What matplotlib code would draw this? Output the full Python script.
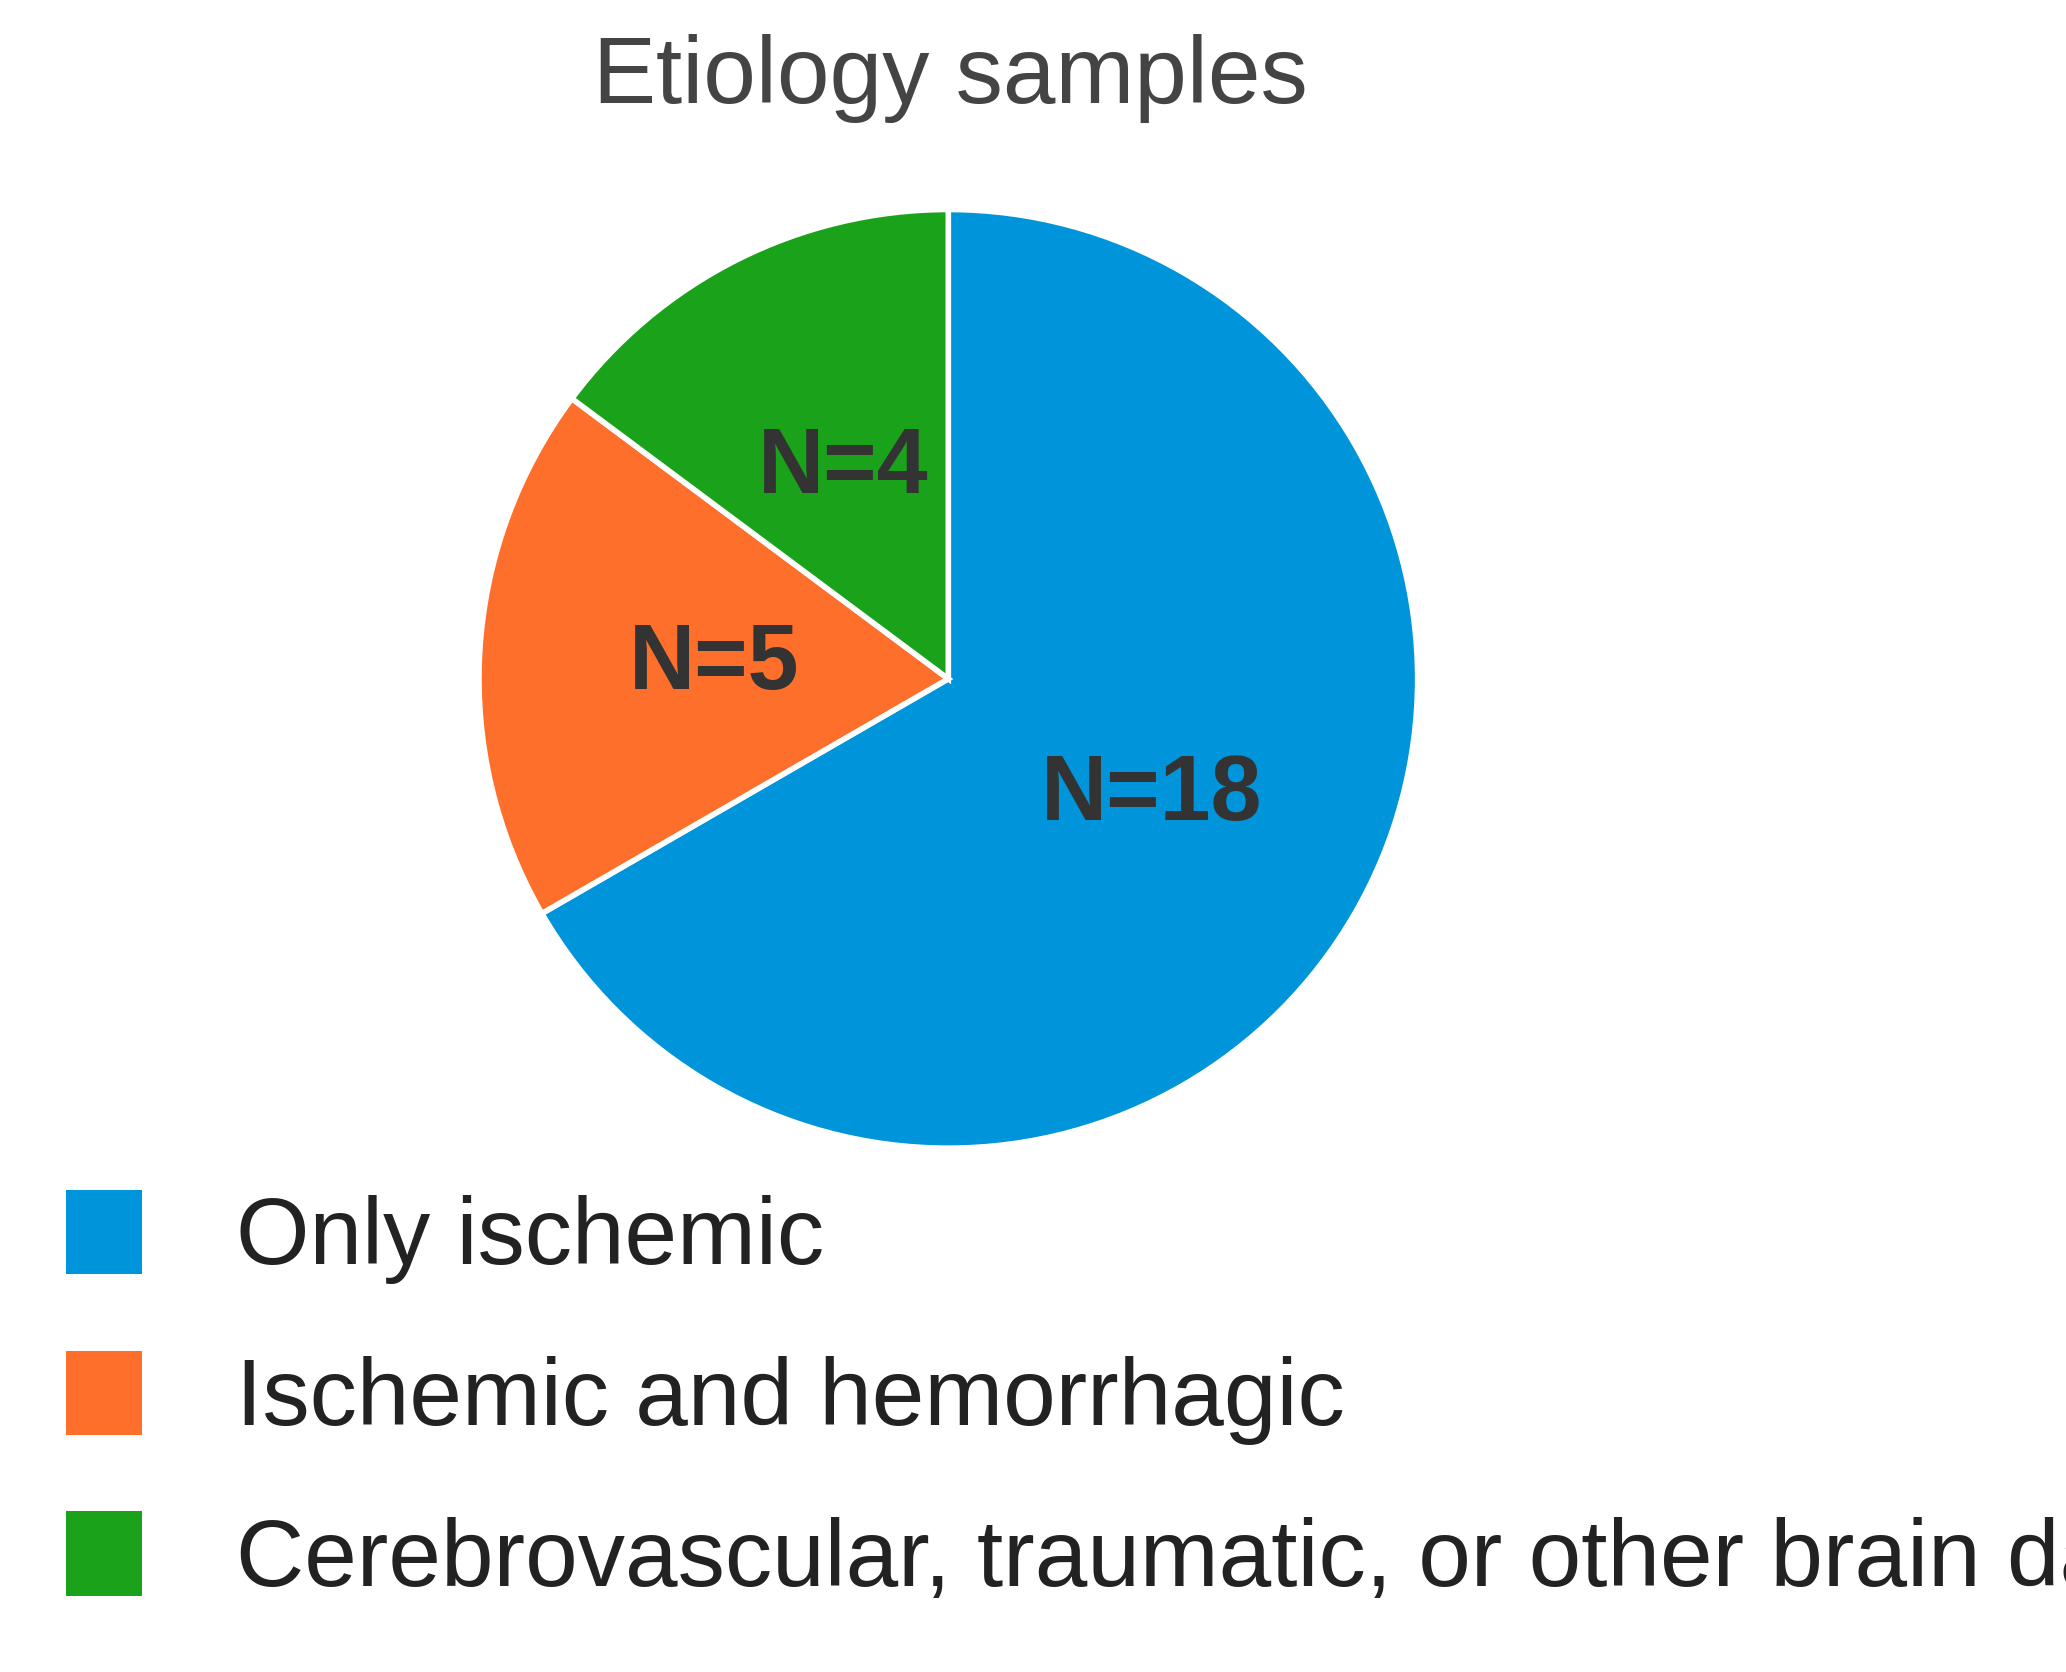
import matplotlib.pyplot as plt
from matplotlib.patches import Patch

plt.rcParams['font.family'] = ['Liberation Sans Narrow', 'Liberation Sans', 'DejaVu Sans']

categories = ["Only ischemic", "Ischemic and hemorrhagic",
              "Cerebrovascular, traumatic, or other brain damage"]
counts = [18, 5, 4]
colors = ["#0095DA", "#FF6F2C", "#1AA31A"]

fig = plt.figure(figsize=(20.66, 16.72), dpi=100)
ax = fig.add_axes([0.2295, 0.3105, 0.459, 0.567])

total = sum(counts)
ax.pie(counts, colors=colors, startangle=90, counterclock=False,
       wedgeprops=dict(edgecolor="white", linewidth=4),
       autopct=lambda p: f"N={round(p * total / 100)}", pctdistance=0.5,
       textprops=dict(fontsize=66, fontweight="bold", color="#333333"))
ax.set_xlim(-1.01, 1.01)
ax.set_ylim(-1.01, 1.01)
ax.set_aspect("equal")
ax.axis("off")

fig.text(0.46, 0.953, "Etiology samples", ha="center", va="center",
         fontsize=68, color="#444444")

handles = [Patch(facecolor=c, edgecolor="none") for c in colors]
fig.legend(handles, categories, loc="lower left", bbox_to_anchor=(0.0, 0.0),
           frameon=False, fontsize=68, handlelength=0.8, handleheight=1.0,
           handletextpad=1.0, labelspacing=0.7, borderaxespad=0.3,
           labelcolor="#222222")

fig.savefig("out.png", dpi=100)
